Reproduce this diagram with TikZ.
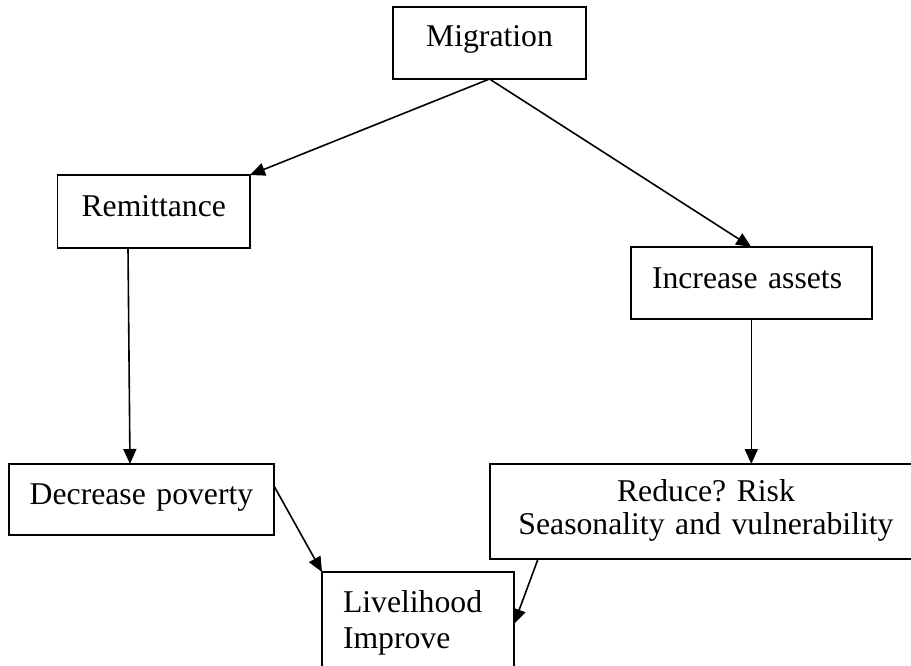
\documentclass[tikz,border=0pt]{standalone}
\usepackage{fontspec}
\setmainfont{Liberation Serif}
\usetikzlibrary{arrows.meta}
\begin{document}
\begin{tikzpicture}[x=1pt,y=-1pt,
  box/.style={draw, line width=1.9pt, anchor=north west, inner ysep=0pt,
    inner xsep=0pt, outer sep=0pt, align=center,
    font=\fontsize{31.7}{33}\selectfont\frenchspacing},
  flow/.style={-{Triangle[length=15pt,width=13pt]}, line width=1.6pt}]
\clip (0,0) rectangle (911,666);

% boxes (top-left corner given; text height/depth fix the baseline)
\node[box, text width=193pt, text height=40pt, text depth=32pt]
  (mig) at (393,7) {Migration};
\node[box, text width=192.5pt, text height=41pt, text depth=32pt]
  (rem) at (57.5,175) {Remittance};
\node[box, align=left, inner xsep=21pt, text width=198.6pt,
  text height=41pt, text depth=31pt]
  (ast) at (631,247) {Increase assets};
\node[box, text width=265pt, text height=40pt, text depth=31pt]
  (pov) at (9,464) {Decrease poverty};
\node[box, text width=432pt, text height=37pt, text depth=58pt]
  (risk) at (490,464) {Reduce? Risk\\Seasonality and vulnerability};
\node[box, align=left, inner xsep=21pt, text width=150pt,
  text height=40pt, text depth=90pt,
  font=\fontsize{31.7}{36}\selectfont\frenchspacing]
  (liv) at (322,572) {Livelihood\\Improve};

% connectors
\draw[flow] (mig.south) -- (rem.north east);
\draw[flow] (mig.south) -- (ast.north);
\draw[flow] ([xshift=70.5pt]rem.south west) -- ([xshift=121pt]pov.north west);
\draw[flow] (ast.south) -- (ast.south |- risk.north);
\draw[flow] ([yshift=-22pt]pov.north east) -- (liv.north west);
\draw[flow] ([xshift=48pt]risk.south west) -- ([yshift=-52pt]liv.north east);
\end{tikzpicture}
\end{document}
